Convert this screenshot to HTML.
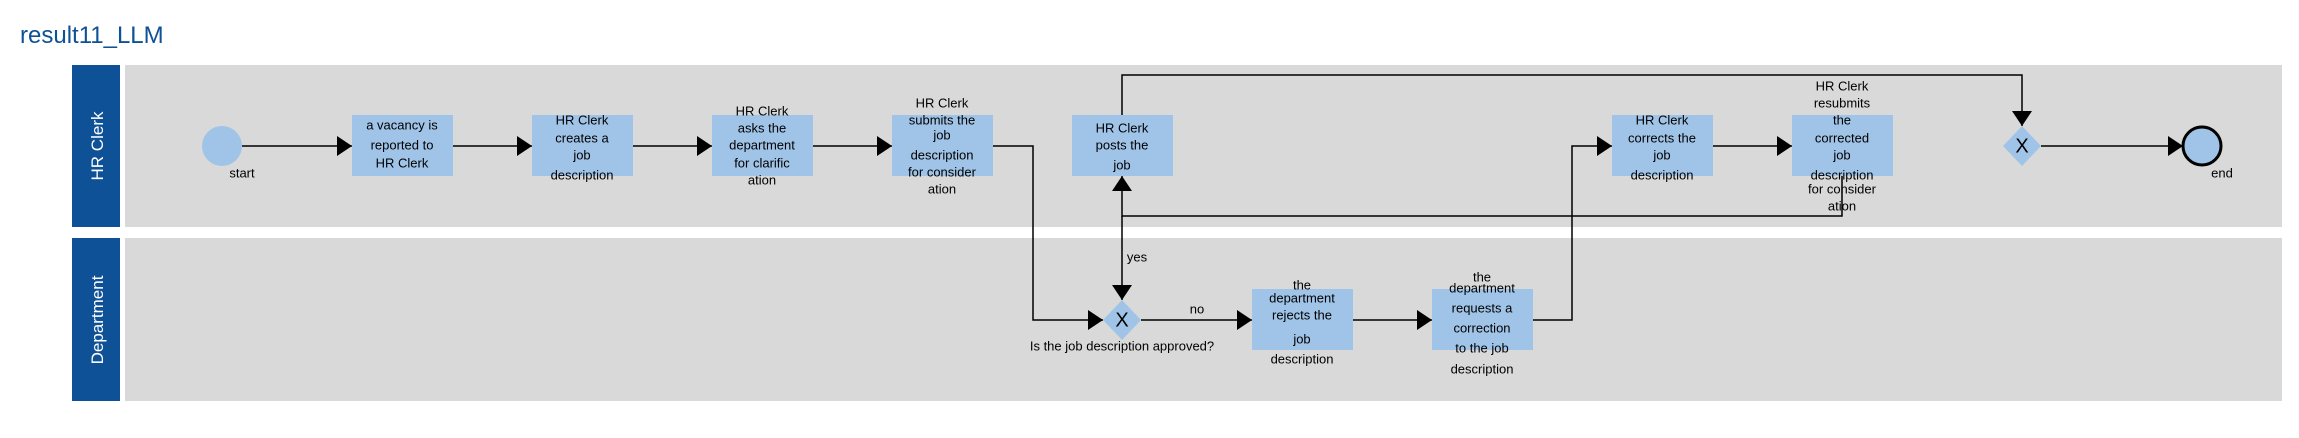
<!DOCTYPE html>
<html><head><meta charset="utf-8"><style>
html,body{margin:0;padding:0;background:#fff;}
svg{display:block;}
text{font-family:"Liberation Sans",sans-serif;}
</style></head><body>
<svg width="2299" height="438" viewBox="0 0 2299 438" xmlns="http://www.w3.org/2000/svg">
<defs>
<marker id="a" markerWidth="15" markerHeight="20" refX="15" refY="10" orient="auto" markerUnits="userSpaceOnUse">
<path d="M0,0 L15,10 L0,20 Z" fill="#000"/></marker>
</defs>
<text x="20" y="43" font-size="24" fill="#0e5196">result11_LLM</text>
<rect x="72" y="65" width="48" height="162" fill="#0e5196"/>
<rect x="125" y="65" width="2157" height="162" fill="#d9d9d9"/>
<rect x="72" y="238" width="48" height="163" fill="#0e5196"/>
<rect x="125" y="238" width="2157" height="163" fill="#d9d9d9"/>
<text transform="translate(103,146) rotate(-90)" text-anchor="middle" font-size="17" fill="#fff">HR Clerk</text>
<text transform="translate(103,320) rotate(-90)" text-anchor="middle" font-size="17" fill="#fff">Department</text>

<g fill="#a0c4e8">
<rect x="352" y="115" width="101" height="61"/>
<rect x="532" y="115" width="101" height="61"/>
<rect x="712" y="115" width="101" height="61"/>
<rect x="892" y="115" width="101" height="61"/>
<rect x="1072" y="115" width="101" height="61"/>
<rect x="1612" y="115" width="101" height="61"/>
<rect x="1792" y="115" width="101" height="61"/>
<rect x="1252" y="289" width="101" height="61"/>
<rect x="1432" y="289" width="101" height="61"/>
<polygon points="1122,300 1141,320 1122,340 1103,320"/>
<polygon points="2022,126 2041,146 2022,166 2003,146"/>
</g>
<circle cx="222" cy="146" r="20" fill="#a0c4e8"/>
<circle cx="2202" cy="146" r="19" fill="#a0c4e8" stroke="#000" stroke-width="3"/>

<g stroke="#000" stroke-width="1.5" fill="none">
<line x1="242" y1="146" x2="352" y2="146" marker-end="url(#a)"/>
<line x1="453" y1="146" x2="532" y2="146" marker-end="url(#a)"/>
<line x1="633" y1="146" x2="712" y2="146" marker-end="url(#a)"/>
<line x1="813" y1="146" x2="892" y2="146" marker-end="url(#a)"/>
<polyline points="993,146 1033,146 1033,320 1103,320" marker-end="url(#a)"/>
<line x1="1141" y1="320" x2="1252" y2="320" marker-end="url(#a)"/>
<line x1="1353" y1="320" x2="1432" y2="320" marker-end="url(#a)"/>
<polyline points="1533,320 1572,320 1572,146 1612,146" marker-end="url(#a)"/>
<line x1="1713" y1="146" x2="1792" y2="146" marker-end="url(#a)"/>
<polyline points="1842,176 1842,216 1122,216 1122,176" marker-end="url(#a)"/>
<line x1="1122" y1="216" x2="1122" y2="300" marker-end="url(#a)"/>
<polyline points="1122,115 1122,75 2022,75 2022,126" marker-end="url(#a)"/>
<line x1="2041" y1="146" x2="2183" y2="146" marker-end="url(#a)"/>
</g>
<g font-size="13" fill="#000" text-anchor="middle" dominant-baseline="middle">
<text x="1122" y="321" font-size="20">X</text>
<text x="2022" y="147" font-size="20">X</text>
<text x="242" y="174">start</text>
<text x="2222" y="174">end</text>
<text x="1137" y="258">yes</text>
<text x="1197" y="310">no</text>
<text x="1122" y="347">Is the job description approved?</text>
<text x="402" y="126">a vacancy is</text><text x="402" y="146">reported to</text><text x="402" y="164">HR Clerk</text>
<text x="582" y="121">HR Clerk</text><text x="582" y="139">creates a</text><text x="582" y="156">job</text><text x="582" y="176">description</text>
<text x="762" y="112">HR Clerk</text><text x="762" y="129">asks the</text><text x="762" y="146">department</text><text x="762" y="164">for clarific</text><text x="762" y="181">ation</text>
<text x="942" y="104">HR Clerk</text><text x="942" y="121">submits the</text><text x="942" y="136">job</text><text x="942" y="156">description</text><text x="942" y="173">for consider</text><text x="942" y="190">ation</text>
<text x="1122" y="129">HR Clerk</text><text x="1122" y="146">posts the</text><text x="1122" y="166">job</text>
<text x="1662" y="121">HR Clerk</text><text x="1662" y="139">corrects the</text><text x="1662" y="156">job</text><text x="1662" y="176">description</text>
<text x="1842" y="87">HR Clerk</text><text x="1842" y="104">resubmits</text><text x="1842" y="121">the</text><text x="1842" y="139">corrected</text><text x="1842" y="156">job</text><text x="1842" y="176">description</text><text x="1842" y="190">for consider</text><text x="1842" y="207">ation</text>
<text x="1302" y="286">the</text><text x="1302" y="299">department</text><text x="1302" y="316">rejects the</text><text x="1302" y="340">job</text><text x="1302" y="360">description</text>
<text x="1482" y="278">the</text><text x="1482" y="289">department</text><text x="1482" y="309">requests a</text><text x="1482" y="329">correction</text><text x="1482" y="349">to the job</text><text x="1482" y="370">description</text>
</g>
</svg>
</body></html>
